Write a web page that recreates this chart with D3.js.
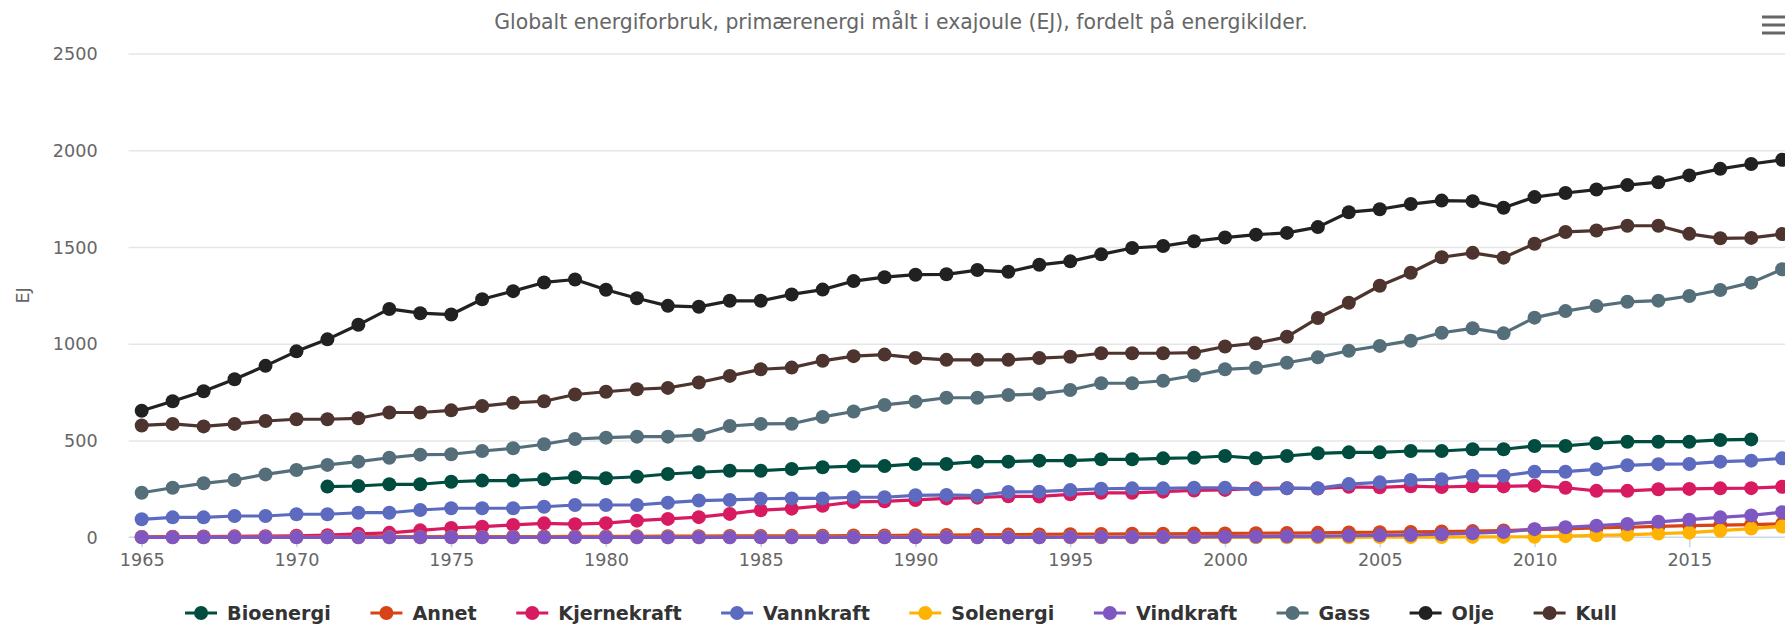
<!DOCTYPE html>
<html><head><meta charset="utf-8">
<script src="https://cdn.jsdelivr.net/npm/d3@7"></script>
<style>
html,body{margin:0;padding:0;background:#fff;overflow:hidden;}
svg{display:block;font-family:"DejaVu Sans",Verdana,sans-serif;}
</style></head><body>
<svg id="chart" width="1785" height="624"></svg>
<script>
// ---------- data ----------
const years = [1965,1966,1967,1968,1969,1970,1971,1972,1973,1974,1975,1976,1977,1978,1979,
  1980,1981,1982,1983,1984,1985,1986,1987,1988,1989,1990,1991,1992,1993,1994,1995,1996,1997,1998,1999,
  2000,2001,2002,2003,2004,2005,2006,2007,2008,2009,2010,2011,2012,2013,2014,2015,2016,2017,2018];
const seriesNames = ["Bioenergi","Annet","Kjernekraft","Vannkraft","Solenergi","Vindkraft","Gass","Olje","Kull"];
const seriesColors = ["#004d40","#d84315","#d81b60","#5c6bc0","#ffb300","#7e57c2","#546e7a","#212121","#4e342e"];

const bioenergi = [null,null,null,null,null,null,262,265,274,274,287,293,293,300,310,
  305,313,327,336,344,344,353,362,368,368,379,379,391,391,396,396,403,403,408,411,
  420,408,420,434,439,439,446,446,455,455,472,472,486,494,494,494,503,506,null];
const annet = [2,2,2,2,2,3,3,3,3,3,4,4,4,4,5,
  5,5,6,6,7,7,8,8,9,9,11,12,13,14,15,16,17,18,18,19,
  20,21,22,23,25,26,28,30,32,35,40,44,48,52,56,60,63,66,70];
const kjernekraft = [2,3,4,5,6,8,11,18,23,36,48,55,64,72,68,
  73,86,95,104,121,140,148,163,183,186,193,201,205,212,211,222,230,230,236,242,
  245,253,254,252,261,258,264,260,264,263,267,256,240,240,248,250,253,254,261];
const vannkraft = [93,103,103,110,110,119,119,127,127,141,150,150,150,158,167,
  167,167,179,190,193,199,201,201,207,207,217,219,215,234,236,244,251,253,253,256,
  256,248,253,253,275,284,296,300,318,318,339,339,351,372,378,379,391,396,408];
const solenergi = [0,0,0,0,0,0,0,0,0,0,0,0,0,0,0,
  0,0,0,0,0,0,0,0,0,0,0,0,0,0,0,0,0,0,0,0,
  0,0,0,0,0,1,1,1,2,2,3,6,10,13,19,24,34,45,56];
const vindkraft = [0,0,0,0,0,0,0,0,0,0,0,0,0,0,0,
  0,0,0,0,0,0,0,0,0,0,0,0,0,0,0,1,1,1,2,2,
  3,4,5,6,8,10,12,16,21,27,42,52,60,69,80,91,103,113,130];
const gass = [230,256,279,296,325,348,374,391,411,427,429,446,460,481,508,
  515,520,520,529,575,586,587,622,650,684,701,721,721,735,741,761,796,796,809,836,
  868,876,902,930,964,989,1016,1057,1080,1054,1135,1169,1195,1217,1223,1247,1278,1316,1385];
const olje = [654,703,755,817,886,961,1023,1098,1180,1158,1151,1230,1272,1317,1332,
  1279,1235,1196,1191,1222,1222,1255,1280,1324,1344,1357,1359,1381,1372,1408,1426,1462,1495,1505,1530,
  1549,1564,1573,1603,1680,1695,1722,1740,1737,1703,1758,1779,1797,1820,1835,1870,1904,1929,1951];
const kull = [578,586,573,586,601,610,610,615,645,645,656,678,695,703,738,
  752,765,772,800,834,868,877,912,936,944,927,917,917,917,926,933,951,951,951,954,
  986,1003,1036,1133,1212,1300,1367,1447,1470,1445,1517,1578,1585,1610,1610,1568,1545,1547,1567];

const seriesValues = [bioenergi, annet, kjernekraft, vannkraft, solenergi, vindkraft, gass, olje, kull];
const yTicks = [0,500,1000,1500,2000,2500];
const xTicks = [1965,1970,1975,1980,1985,1990,1995,2000,2005,2010,2015];
const titleText = "Globalt energiforbruk, primærenergi målt i exajoule (EJ), fordelt på energikilder.";
const yAxisTitle = "EJ";

// ---------- layout ----------
const chartW = 1802;
const plotLeft = 128.6, plotRight = 1802, plotTop = 53.5, plotBottom = 537.3;
const svg = d3.select("#chart");

const x = d3.scaleLinear().domain([1965, 2015]).range([141.7, 1689.3]);
const y = d3.scaleLinear().domain([0, 2500]).range([plotBottom, plotTop]);

// title
svg.append("text")
  .attr("x", chartW / 2).attr("y", 29)
  .attr("text-anchor", "middle")
  .attr("fill", "#666666")
  .style("font-size", "20.4px")
  .text(titleText);

// menu icon
const menu = svg.append("g").attr("stroke", "#666666").attr("stroke-width", 3.2);
[17, 25, 33].forEach(v => menu.append("line").attr("x1", 1762).attr("x2", 1795).attr("y1", v).attr("y2", v));

// y axis with gridlines
const yAxis = svg.append("g")
  .attr("transform", `translate(${plotLeft},0)`)
  .call(d3.axisLeft(y).tickValues(yTicks).tickFormat(d3.format("d"))
    .tickSize(-(plotRight - plotLeft)).tickPadding(31));
yAxis.select(".domain").remove();
yAxis.selectAll(".tick line").attr("stroke", "#e6e6e6").attr("stroke-width", 1.6)
  .filter(d => d === 0).remove();
yAxis.selectAll(".tick text").attr("fill", "#666666").style("font-size", "17.6px")
  .style("font-family", "DejaVu Sans").attr("dy", "0.35em");

// y axis title
svg.append("text")
  .attr("transform", `translate(29,${(plotTop + plotBottom) / 2}) rotate(-90)`)
  .attr("text-anchor", "middle")
  .attr("fill", "#666666")
  .style("font-size", "17.6px")
  .text(yAxisTitle);

// x axis
svg.append("line").attr("x1", plotLeft).attr("x2", plotRight)
  .attr("y1", plotBottom).attr("y2", plotBottom)
  .attr("stroke", "#ccd6eb").attr("stroke-width", 1.6);
const xAxis = svg.append("g")
  .attr("transform", `translate(0,${plotBottom})`)
  .call(d3.axisBottom(x).tickValues(xTicks).tickFormat(d3.format("d")).tickSize(10).tickPadding(6));
xAxis.select(".domain").remove();
xAxis.selectAll(".tick line").attr("stroke", "#ccd6eb").attr("stroke-width", 1.6);
xAxis.selectAll(".tick text").attr("fill", "#666666").style("font-size", "17.6px")
  .style("font-family", "DejaVu Sans");

// series
const line = d3.line()
  .defined(d => d.v !== null)
  .x(d => x(d.year))
  .y(d => y(d.v));

seriesNames.forEach((name, i) => {
  const pts = years.map((yr, j) => ({ year: yr, v: seriesValues[i][j] }));
  const g = svg.append("g").attr("class", "series");
  g.append("path").datum(pts)
    .attr("d", line)
    .attr("fill", "none")
    .attr("stroke", seriesColors[i])
    .attr("stroke-width", 3.2)
    .attr("stroke-linejoin", "round")
    .attr("stroke-linecap", "round");
  g.selectAll("circle").data(pts.filter(d => d.v !== null)).join("circle")
    .attr("cx", d => x(d.year))
    .attr("cy", d => y(d.v))
    .attr("r", 7)
    .attr("fill", seriesColors[i]);
});

// legend
const legend = svg.append("g").attr("class", "legend");
const legendY = 613;
const symW = 32, textGap = 10, itemGap = 39.5;
const items = seriesNames.map((name, i) => {
  const g = legend.append("g");
  g.append("line").attr("x1", 0).attr("x2", symW).attr("y1", 0).attr("y2", 0)
    .attr("stroke", seriesColors[i]).attr("stroke-width", 3.2);
  g.append("circle").attr("cx", symW / 2).attr("cy", 0).attr("r", 7).attr("fill", seriesColors[i]);
  const t = g.append("text").attr("x", symW + textGap).attr("y", 0).attr("dy", "0.35em")
    .attr("fill", "#333333").style("font-size", "19.2px").style("font-weight", "bold")
    .text(name);
  return { g, w: symW + textGap + t.node().getComputedTextLength() };
});
const totalW = d3.sum(items, d => d.w) + itemGap * (items.length - 1);
let cx = chartW / 2 - totalW / 2;
items.forEach(it => {
  it.g.attr("transform", `translate(${cx},${legendY})`);
  cx += it.w + itemGap;
});
</script>
</body></html>
